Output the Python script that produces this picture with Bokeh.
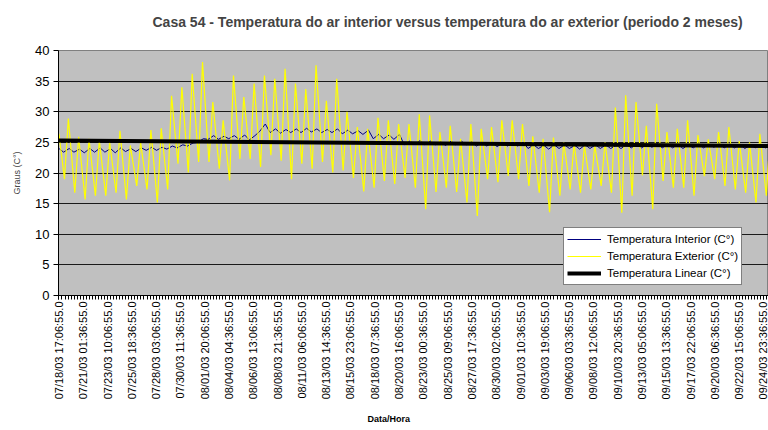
import math
import pandas as pd
from bokeh.plotting import figure
from bokeh.models import FixedTicker, Range1d, Legend, LegendItem, Title
from bokeh.embed import file_html
from bokeh.resources import INLINE

FONT = "Liberation Sans"

title_text = "Casa 54 - Temperatura do ar interior versus temperatura do ar exterior (periodo 2 meses)"
y_label = "Graus (C°)"
x_label = "Data/Hora"
series_names = ["Temperatura Interior (C°)", "Temperatura Exterior (C°)", "Temperatura Linear (C°)"]

tick_labels = [
    "07/18/03 17:06:55.0", "07/21/03 01:36:55.0", "07/23/03 10:06:55.0", "07/25/03 18:36:55.0",
    "07/28/03 03:06:55.0", "07/30/03 11:36:55.0", "08/01/03 20:06:55.0", "08/04/03 04:36:55.0",
    "08/06/03 13:06:55.0", "08/08/03 21:36:55.0", "08/11/03 06:06:55.0", "08/13/03 14:36:55.0",
    "08/15/03 23:06:55.0", "08/18/03 07:36:55.0", "08/20/03 16:06:55.0", "08/23/03 00:36:55.0",
    "08/25/03 09:06:55.0", "08/27/03 17:36:55.0", "08/30/03 02:06:55.0", "09/01/03 10:36:55.0",
    "09/03/03 19:06:55.0", "09/06/03 03:36:55.0", "09/08/03 12:06:55.0", "09/10/03 20:36:55.0",
    "09/13/03 05:06:55.0", "09/15/03 13:36:55.0", "09/17/03 22:06:55.0", "09/20/03 06:36:55.0",
    "09/22/03 15:06:55.0", "09/24/03 23:36:55.0",
]
y_ticks = [0, 5, 10, 15, 20, 25, 30, 35, 40]

start_time = "2003-07-18 17:06:55"
end_time = "2003-09-25 11:06:55"
first_day = "2003-07-18"

# Exterior temperature: start value, daily minima (06h, days 1..69), daily maxima (15h, days 1..68), end value
ext_start = 26.4
ext_end = 22.0
ext_min = [19.0, 16.8, 15.7, 16.3, 16.3, 16.8, 15.7, 17.9, 17.3, 15.2, 17.3, 21.5, 20.1, 21.8,
           21.8, 20.7, 18.8, 22.3, 22.3, 21.0, 22.9, 22.0, 19.0, 21.5, 20.7, 21.8, 20.1, 20.4,
           19.2, 17.0, 17.6, 18.7, 18.2, 19.2, 17.6, 14.1, 16.9, 17.6, 16.9, 15.2, 13.0, 19.0,
           18.5, 19.5, 19.0, 17.9, 16.8, 13.6, 16.3, 17.3, 16.8, 17.3, 17.9, 16.8, 13.5, 16.3,
           19.6, 14.1, 18.7, 17.6, 17.6, 16.3, 19.5, 19.0, 17.9, 17.3, 16.8, 15.2, 16.3]
ext_max = [28.9, 25.9, 25.6, 25.3, 25.0, 26.9, 24.5, 25.0, 27.0, 27.3, 32.6, 34.0, 36.2, 38.1,
           31.6, 28.6, 35.9, 32.4, 34.6, 35.9, 35.4, 37.0, 34.6, 33.7, 37.6, 31.8, 35.4, 30.0,
           27.5, 27.2, 29.0, 28.6, 28.0, 28.0, 29.6, 29.4, 26.7, 27.7, 25.6, 28.0, 27.2, 27.5,
           28.6, 28.6, 28.0, 26.0, 25.6, 25.8, 25.0, 24.8, 24.5, 24.5, 25.0, 30.7, 32.7, 31.6,
           27.7, 31.3, 26.7, 27.2, 28.6, 26.2, 25.5, 26.7, 27.5, 25.2, 25.0, 26.4]

# Interior temperature: daily highs (17h, days 0..69) and lows (04h, days 1..69)
int_high = [24.0, 24.0, 23.9, 24.0, 24.1, 24.0, 24.1, 24.0, 24.1, 24.2, 24.2, 24.4, 24.6, 24.9,
            25.6, 26.1, 26.0, 26.1, 26.2, 26.1, 28.0, 27.2, 27.1, 27.2, 27.3, 27.2, 27.1, 27.2,
            27.0, 26.9, 27.0, 26.3, 26.2, 26.3, 25.2, 25.3, 25.2, 25.1, 25.2, 25.2, 25.1, 25.0,
            25.0, 24.9, 25.0, 25.0, 24.6, 24.5, 24.6, 24.6, 24.5, 24.6, 24.6, 24.6, 24.5, 24.6,
            24.7, 24.7, 24.8, 24.7, 24.7, 24.6, 24.7, 24.7, 24.8, 24.7, 24.7, 24.6, 24.7, 24.7]
int_low = [23.4, 23.4, 23.3, 23.4, 23.4, 23.3, 23.5, 23.5, 23.7, 23.7, 23.9, 24.1, 24.4, 25.0,
           25.5, 25.5, 25.6, 25.5, 25.4, 26.8, 26.6, 26.5, 26.6, 26.6, 26.7, 26.6, 26.6, 26.4,
           26.4, 26.3, 25.6, 25.6, 25.5, 24.6, 24.7, 24.6, 24.6, 24.5, 24.6, 24.6, 24.4, 24.4,
           24.3, 24.4, 24.4, 24.0, 24.0, 23.9, 24.0, 24.0, 23.9, 24.0, 24.0, 24.0, 24.0, 24.1,
           24.1, 24.2, 24.1, 24.1, 24.0, 24.1, 24.1, 24.2, 24.1, 24.1, 24.0, 24.1, 24.1]

# Linear trend: value at start and at end
lin_values = [25.3, 24.4]

# ---------------------------------------------------------------------------
t0 = pd.Timestamp(start_time)
t_end = pd.Timestamp(end_time)
d0 = pd.Timestamp(first_day)


def hrs(ts):
    return (ts - t0) / pd.Timedelta(hours=1)


label_hours = [hrs(pd.to_datetime(s, format="%m/%d/%y %H:%M:%S.%f")) for s in tick_labels]
step = (label_hours[1] - label_hours[0]) / 8.0
minor_hours = [i * step for i in range(0, int(hrs(t_end) / step) + 1)]

ext_x, ext_y = [0.0], [ext_start]
for d in range(1, len(ext_min) + 1):
    ext_x.append(hrs(d0 + pd.Timedelta(days=d, hours=6)))
    ext_y.append(ext_min[d - 1])
    if d <= len(ext_max):
        ext_x.append(hrs(d0 + pd.Timedelta(days=d, hours=15)))
        ext_y.append(ext_max[d - 1])
ext_x.append(hrs(t_end))
ext_y.append(ext_end)

int_x, int_y = [0.0], [int_high[0]]
for d in range(1, len(int_low) + 1):
    int_x.append(hrs(d0 + pd.Timedelta(days=d, hours=4)))
    int_y.append(int_low[d - 1])
    int_x.append(hrs(d0 + pd.Timedelta(days=d, hours=17)))
    int_y.append(int_high[d])

lin_x = [0.0, hrs(t_end)]

p = figure(width=768, height=430, output_backend="svg", toolbar_location=None,
           x_range=Range1d(-1.0, hrs(t_end)), y_range=Range1d(0, 40),
           min_border_left=58, min_border_right=0, min_border_top=50, min_border_bottom=135,
           background_fill_color="#C0C0C0", border_fill_color="white",
           outline_line_color="#808080")

# main title: the empty second line keeps the text higher above the plot area
p.title.text = title_text + "\n"
p.title.text_font = FONT
p.title.text_font_size = "14px"
p.title.text_font_style = "bold"
p.title.align = "left"
p.title.offset = 94
p.title.standoff = 10

r_int = p.line(int_x, int_y, line_color="#000080", line_width=1)
r_ext = p.line(ext_x, ext_y, line_color="#FFFF00", line_width=1.2)
r_lin = p.line(lin_x, lin_values, line_color="black", line_width=4)

p.xgrid.grid_line_color = None
p.ygrid.grid_line_color = "#1a1a1a"
p.ygrid.grid_line_width = 1

p.yaxis.ticker = FixedTicker(ticks=y_ticks)
p.yaxis.axis_label = y_label
p.yaxis.axis_label_text_font = FONT
p.yaxis.axis_label_text_font_size = "9px"
p.yaxis.axis_label_text_font_style = "normal"
p.yaxis.axis_label_standoff = 10
p.yaxis.major_label_text_font = FONT
p.yaxis.major_label_text_font_size = "13px"
p.yaxis.major_label_text_color = "black"
p.yaxis.major_tick_out = 5
p.yaxis.major_tick_in = 0
p.yaxis.minor_tick_line_color = None
p.yaxis.axis_line_color = "black"
p.yaxis.major_label_standoff = 4

p.xaxis.ticker = FixedTicker(ticks=label_hours, minor_ticks=minor_hours)
p.xaxis.major_label_overrides = {h: s for h, s in zip(label_hours, tick_labels)}
p.xaxis.major_label_orientation = math.pi / 2
p.xaxis.major_label_text_font = FONT
p.xaxis.major_label_text_font_size = "11px"
p.xaxis.major_label_text_color = "black"
p.xaxis.major_tick_out = 4
p.xaxis.major_tick_in = 0
p.xaxis.minor_tick_out = 4
p.xaxis.minor_tick_in = 0
p.xaxis.minor_tick_line_color = "black"
p.xaxis.axis_line_color = "black"
p.xaxis.major_label_standoff = 2

# x-axis title (leading empty line moves it a little further below the tick labels)
p.add_layout(Title(text="\n" + x_label, text_font=FONT, text_font_size="9px",
                   text_font_style="bold", text_color="black",
                   align="left", offset=309, vertical_align="top", standoff=2), "below")

legend = Legend(items=[LegendItem(label=series_names[0], renderers=[r_int]),
                       LegendItem(label=series_names[1], renderers=[r_ext]),
                       LegendItem(label=series_names[2], renderers=[r_lin])],
                location=(505, 10))
legend.label_text_font = FONT
legend.label_text_font_size = "11.5px"
legend.label_text_color = "black"
legend.glyph_width = 34
legend.glyph_height = 16
legend.label_height = 16
legend.label_standoff = 6
legend.spacing = 1
legend.padding = 3
legend.margin = 0
legend.border_line_color = "black"
legend.border_line_width = 1
legend.background_fill_color = "white"
legend.background_fill_alpha = 1.0
p.add_layout(legend)

open("out.html", "w").write(file_html(p, INLINE))
